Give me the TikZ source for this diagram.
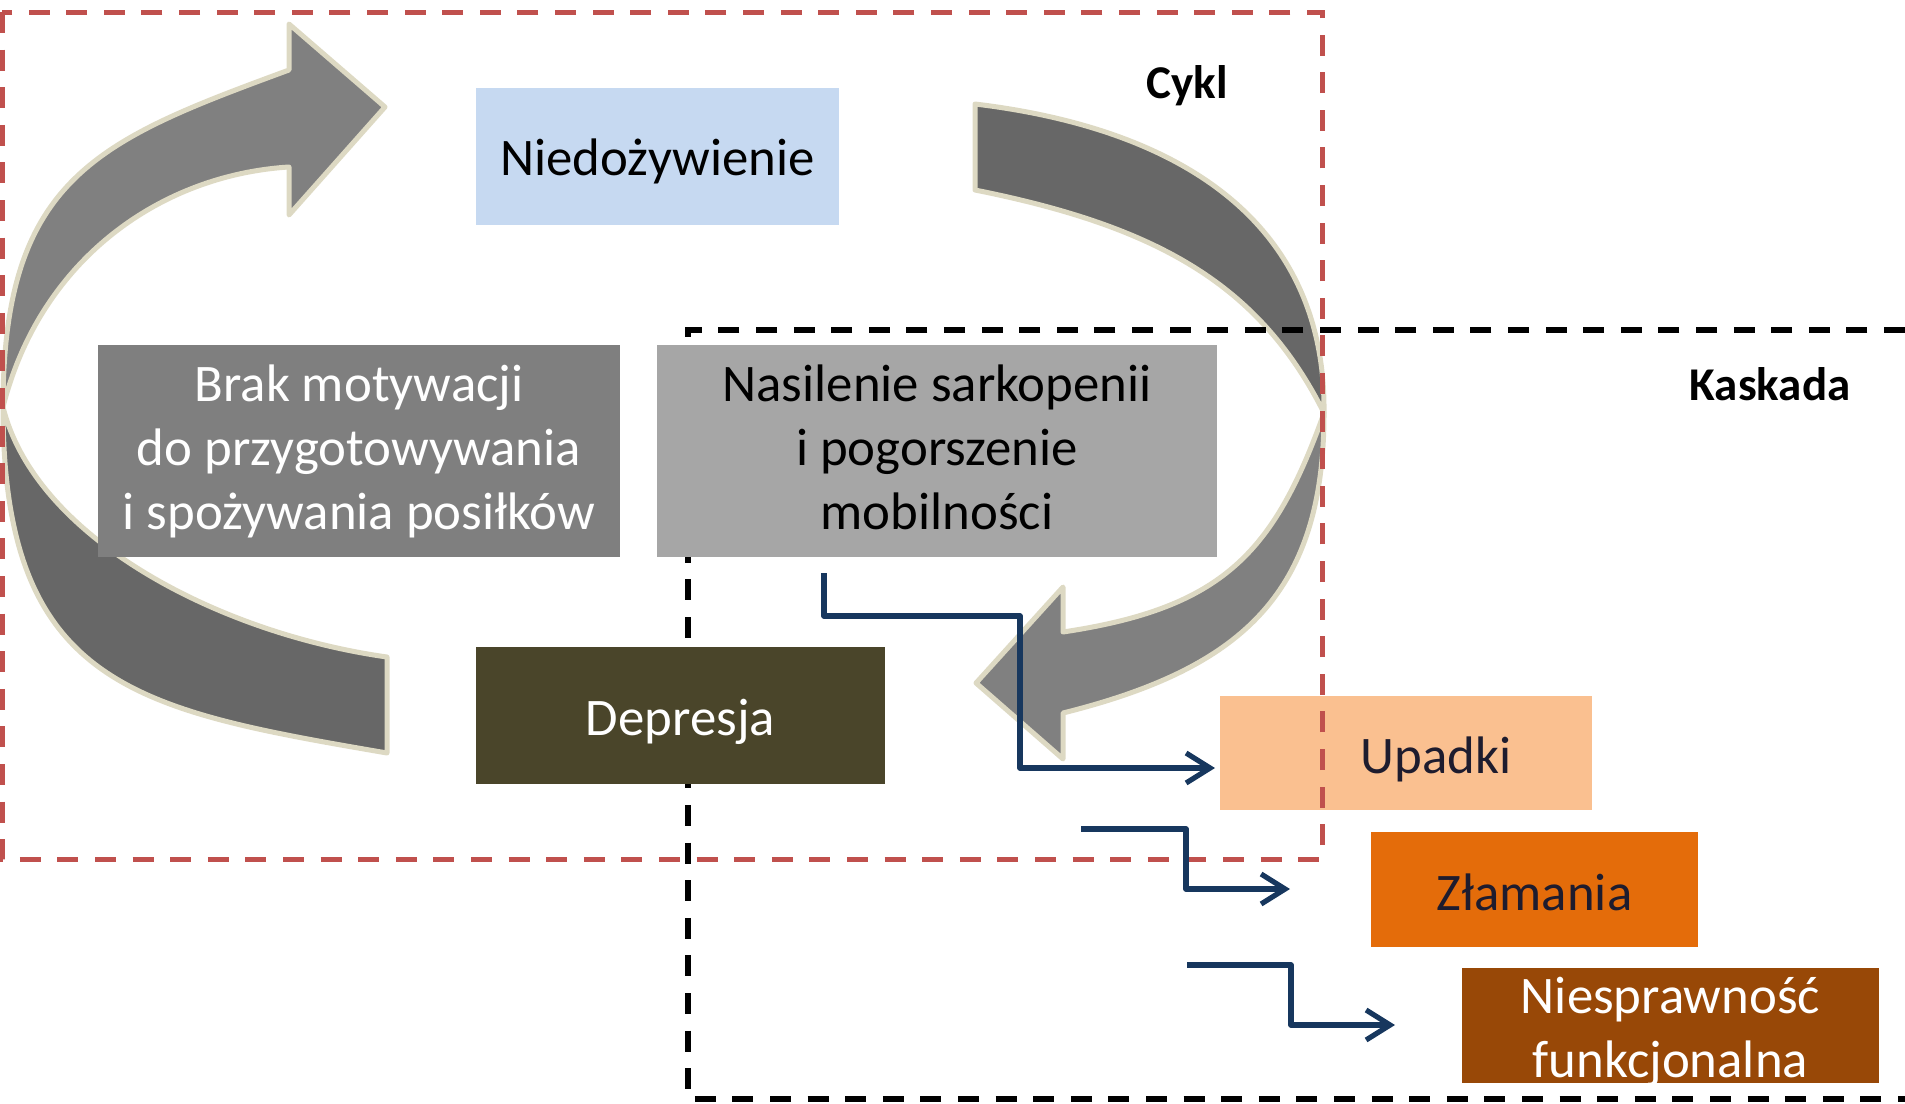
\documentclass[tikz,border=0pt]{standalone}
\usepackage{fontspec}
\setmainfont{Carlito}
\usetikzlibrary{arrows.meta}
\definecolor{niedocol}{HTML}{C6D9F1}
\definecolor{brakcol}{HTML}{7F7F7F}
\definecolor{nasilcol}{HTML}{A6A6A6}
\definecolor{deprcol}{HTML}{4A452A}
\definecolor{upadkicol}{HTML}{FAC090}
\definecolor{zlamcol}{HTML}{E46C0A}
\definecolor{niesprcol}{HTML}{984807}
\definecolor{darktext}{HTML}{1E1C2E}
\definecolor{bandlightcol}{HTML}{808080}
\definecolor{banddarkcol}{HTML}{676767}
\definecolor{bandedge}{HTML}{DDD9C3}
\definecolor{cyklred}{HTML}{C0504D}
\definecolor{flowblue}{HTML}{17375E}
\newcommand{\diagfont}{\fontsize{26.4}{32}\selectfont}
\newcommand{\headfont}{\fontsize{23.5}{28}\selectfont\bfseries}
\tikzstyle{box}=[rectangle,inner sep=0pt,align=center,font=\diagfont]
\tikzstyle{bandlight}=[fill=bandlightcol,draw=bandedge,line width=2.5pt,line join=round]
\tikzstyle{banddark}=[fill=banddarkcol,draw=bandedge,line width=2.5pt,line join=round]
\tikzstyle{flow}=[draw=flowblue,line width=2.6pt,line join=round,-{Straight Barb[length=12pt,width=15pt]}]
\tikzstyle{cyklframe}=[draw=cyklred,line width=2.5pt,dash pattern=on 10.5pt off 8.3pt]
\tikzstyle{kaskadaframe}=[draw=black,line width=2.6pt,dash pattern=on 10.5pt off 8.3pt]
\tikzstyle{heading}=[font=\headfont]

\begin{document}
\begin{tikzpicture}[x=0.5pt,y=-0.5pt]
\useasboundingbox (0,0) rectangle (1905,1103);
\filldraw[banddark] (3,407) .. controls (3,687) and (137,710) .. (387,753) -- (387,657) .. controls (217,633) and (35,537) .. (3,407) -- cycle;
\filldraw[bandlight] (3,407) .. controls (3,177) and (99,140) .. (289,70) -- (289,24) -- (385,107) -- (289,215) -- (289,167) .. controls (160,175) and (40,260) .. (3,407) -- cycle;
\filldraw[banddark] (975,104) .. controls (1175,128) and (1326,218) .. (1324,413) .. controls (1259,283) and (1155,226) .. (975,190) -- cycle;
\filldraw[bandlight] (1324,413) .. controls (1324,593) and (1243,668) .. (1063,713) -- (1063,759) -- (976,683) -- (1063,587) -- (1063,632) .. controls (1223,608) and (1274,553) .. (1324,413) -- cycle;
\draw[kaskadaframe] (1905,330) -| (688,1099) -- (1905,1099);
\node[box,fill=niedocol,minimum width=181.5pt,minimum height=68.5pt] at (657.5,156.5) (niedo) {};
\node[box] at (657.5,161.5) (niedotxt) {Niedożywienie};
\node[box,fill=brakcol,text=white,minimum width=261pt,minimum height=106pt] at (359,451) (brak) {Brak motywacji\\do przygotowywania\\i spożywania posiłków};
\node[box,fill=nasilcol,minimum width=280pt,minimum height=106pt] at (937,451) (nasil) {};
\node[box] at (937,447.5) (nasiltxt) {Nasilenie sarkopenii\\i pogorszenie\\mobilności};
\node[box,fill=deprcol,minimum width=204.5pt,minimum height=68.5pt] at (680.5,715.5) (depr) {};
\node[box,text=white] at (680.5,721.5) (deprtxt) {Depresja};
\node[box,fill=upadkicol,minimum width=186pt,minimum height=57pt] at (1406,753) (upadki) {};
\node[box,text=darktext] at (1436,759) (upadkitxt) {Upadki};
\node[box,fill=zlamcol,minimum width=163.5pt,minimum height=57.5pt] at (1534.5,889.5) (zlam) {};
\node[box,text=darktext] at (1534.5,892) (zlamtxt) {Złamania};
\node[box,fill=niesprcol,minimum width=208.5pt,minimum height=57.5pt] at (1670.5,1025.5) (niespr) {};
\node[box,text=white] at (1670.5,1032) (niesprtxt) {Niesprawność\\funkcjonalna};
\draw[cyklframe] (2,12) rectangle (1322,859);
\coordinate (fa) at (824,573);
\coordinate (fb) at (1215,768);
\coordinate (za) at (1081,829);
\coordinate (zb) at (1290,889);
\coordinate (na) at (1187,965);
\coordinate (nb) at (1395,1025);
\draw[flow] (fa) |- (1020,616) |- (fb);
\draw[flow] (za) -- (1186,829) |- (zb);
\draw[flow] (na) -- (1291,965) |- (nb);
\node[heading] at (1187,86) (cykl) {Cykl};
\node[heading] at (1770,384.5) (kaskada) {Kaskada};
\end{tikzpicture}
\end{document}
